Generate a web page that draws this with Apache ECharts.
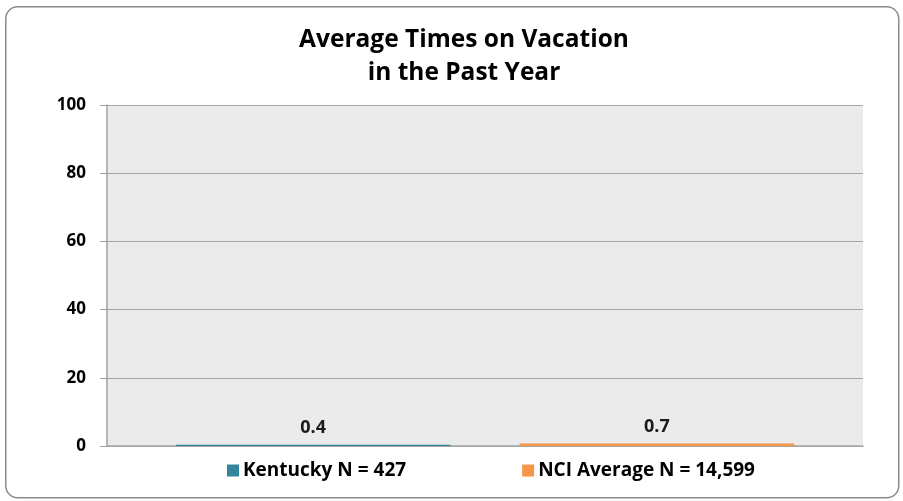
<!DOCTYPE html>
<html><head><meta charset="utf-8">
<script src="https://cdn.jsdelivr.net/npm/echarts@6/dist/echarts.min.js"></script>
<style>html,body{margin:0;padding:0;background:#fff}#c{width:903px;height:501px}</style>
</head><body><div id="c"></div>
<script>
const titleText = 'Average Times on Vacation\nin the Past Year';
const categories = [''];
const seriesNames = ['Kentucky N = 427', 'NCI Average N = 14,599'];
const kentuckyValues = [0.4];
const nciValues = [0.7];
const seriesColors = ['#31859C', '#F79646'];
const yTicks = [0, 20, 40, 60, 80, 100];

const FONT = "'Open Sans', 'Liberation Sans', sans-serif";
const chart = echarts.init(document.getElementById('c'));
const labelCfg = { show: true, position: 'top', distance: 8, fontFamily: FONT, fontSize: 18, fontWeight: 'bold', color: '#1a1a1a', formatter: p => p.value.toFixed(1) };
chart.setOption({
  animation: false,
  backgroundColor: '#fff',
  graphic: [{
    type: 'rect', left: 5, top: 6, z: -10,
    shape: { width: 893, height: 491, r: 12 },
    style: { fill: '#fff', stroke: '#8c8c8c', lineWidth: 1.5 }
  }],
  title: {
    text: titleText, left: 459, textAlign: 'center', top: 19,
    textStyle: { fontFamily: FONT, fontSize: 24.5, fontWeight: 'bold', color: '#000', lineHeight: 33 }
  },
  legend: {
    top: 456, left: 222, itemWidth: 12, itemHeight: 12, itemGap: 116,
    icon: 'rect',
    textStyle: { fontFamily: FONT, fontSize: 19, fontWeight: 'bold', color: '#000', padding: [0, 0, 0, -1] },
    data: seriesNames
  },
  grid: { left: 107, right: 40, top: 105, bottom: 55, containLabel: false },
  xAxis: {
    type: 'category', data: categories,
    axisLine: { lineStyle: { color: '#a6a6a6', width: 1.5 } },
    axisTick: { show: false }, axisLabel: { show: false },
    splitArea: { show: false }
  },
  yAxis: {
    type: 'value', min: 0, max: 100, interval: 20,
    axisLine: { show: true, lineStyle: { color: '#a0a0a0', width: 1.5 } },
    axisTick: { show: true, length: 7, lineStyle: { color: '#a0a0a0' } },
    axisLabel: { fontFamily: FONT, fontSize: 17, fontWeight: 'bold', color: '#000', margin: 21,
      formatter: v => yTicks.includes(v) ? String(v) : '' },
    splitLine: { lineStyle: { color: '#a6a6a6', width: 1.2 } },
    splitArea: { show: true, areaStyle: { color: ['#EBEBEB', '#EBEBEB'] } }
  },
  series: [
    { name: seriesNames[0], type: 'bar', data: kentuckyValues, itemStyle: { color: seriesColors[0] },
      barGap: '25.2%', barCategoryGap: '18.2%', label: labelCfg },
    { name: seriesNames[1], type: 'bar', data: nciValues, itemStyle: { color: seriesColors[1] },
      barGap: '25.2%', barCategoryGap: '18.2%', label: labelCfg }
  ]
});
</script></body></html>
